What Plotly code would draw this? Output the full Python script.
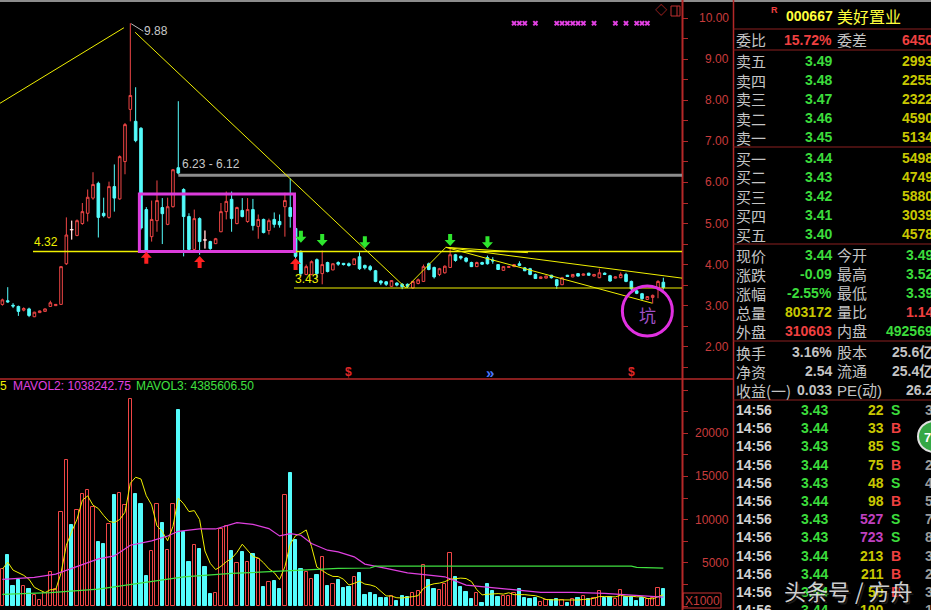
import pandas as pd
import plotly.graph_objects as go

# ------------------------------------------------------------------ bar data
opens = [3.03, 3.12, 3.01, 2.98, 2.89, 2.92, 2.73, 2.83, 2.86, 2.98,
         3.00, 3.03, 4.02, 4.85, 4.71, 5.00, 5.25, 5.62, 5.98, 5.25,
         5.15, 5.90, 5.60, 6.51, 7.78, 7.49, 7.32, 5.34, 4.68, 5.07,
         5.39, 4.98, 5.41, 6.36, 5.83, 5.17, 4.37, 5.12, 4.60, 4.56,
         4.51, 4.80, 5.29, 5.59, 5.00, 5.32, 5.05, 5.34, 4.93, 5.10,
         4.83, 5.10, 5.05, 5.41, 5.39, 4.88, 4.30, 3.76, 3.76, 4.12,
         3.78, 4.05, 3.87, 4.05, 4.03, 4.02, 4.00, 4.19, 3.98, 3.95,
         3.85, 3.60, 3.58, 3.47, 3.55, 3.52, 3.52, 3.43, 3.54, 3.59,
         4.02, 3.93, 3.76, 3.80, 3.93, 4.24, 4.20, 4.16, 4.05, 3.95,
         4.05, 4.17, 4.11, 4.00, 3.86, 3.93, 3.95, 4.02, 3.92, 3.90,
         3.76, 3.66, 3.67, 3.74, 3.63, 3.51, 3.74, 3.70, 3.78, 3.74,
         3.79, 3.72, 3.68, 3.79, 3.73, 3.67, 3.68, 3.76, 3.59, 3.36,
         3.29, 3.15, 3.20, 3.41, 3.57]
highs = [3.17, 3.45, 3.06, 3.00, 2.96, 2.95, 2.85, 2.88, 2.93, 3.12,
         3.04, 3.96, 5.15, 5.07, 5.10, 5.50, 5.83, 6.25, 6.02, 5.63,
         6.02, 6.44, 6.66, 7.45, 9.88, 8.32, 7.35, 5.40, 5.56, 6.05,
         5.62, 5.63, 6.33, 7.98, 5.86, 5.25, 5.34, 5.15, 4.83, 4.58,
         4.65, 5.50, 5.78, 5.78, 5.41, 5.62, 5.62, 5.60, 5.22, 5.12,
         5.12, 5.27, 5.22, 5.75, 6.10, 4.95, 4.35, 4.00, 4.10, 4.15,
         4.34, 4.07, 4.03, 4.08, 4.04, 4.05, 4.15, 4.30, 4.00, 3.99,
         3.87, 3.62, 3.60, 3.62, 3.57, 3.55, 3.54, 3.60, 3.66, 4.00,
         4.05, 3.95, 3.92, 3.98, 4.40, 4.26, 4.22, 4.18, 4.07, 4.07,
         4.07, 4.22, 4.18, 4.01, 3.96, 3.97, 4.01, 4.08, 3.94, 3.92,
         3.78, 3.71, 3.73, 3.75, 3.65, 3.70, 3.75, 3.77, 3.79, 3.78,
         3.80, 3.77, 3.90, 3.81, 3.75, 3.71, 3.81, 3.80, 3.61, 3.38,
         3.31, 3.23, 3.27, 3.62, 3.68]
lows = [3.00, 3.07, 2.94, 2.75, 2.86, 2.72, 2.72, 2.82, 2.85, 2.97,
        2.99, 3.02, 3.99, 4.61, 4.69, 4.97, 5.05, 5.58, 4.66, 5.15,
        5.12, 5.29, 5.58, 6.20, 7.49, 6.98, 4.85, 4.30, 4.56, 4.80,
        4.50, 4.96, 5.39, 6.20, 4.20, 4.35, 4.35, 4.24, 4.39, 4.36,
        4.50, 4.79, 5.10, 4.80, 4.98, 5.15, 5.02, 4.83, 4.63, 4.76,
        4.73, 4.90, 4.90, 4.68, 4.90, 4.15, 3.72, 3.74, 3.74, 3.67,
        3.52, 3.81, 3.86, 3.97, 3.98, 3.95, 3.99, 3.87, 3.88, 3.84,
        3.57, 3.50, 3.48, 3.46, 3.47, 3.40, 3.43, 3.41, 3.52, 3.58,
        3.86, 3.66, 3.72, 3.78, 3.92, 4.07, 4.12, 4.05, 3.94, 3.94,
        3.99, 4.00, 4.02, 3.87, 3.85, 3.92, 3.94, 3.96, 3.84, 3.74,
        3.65, 3.65, 3.66, 3.66, 3.41, 3.50, 3.70, 3.69, 3.71, 3.73,
        3.73, 3.71, 3.67, 3.75, 3.58, 3.66, 3.67, 3.57, 3.38, 3.28,
        3.13, 3.14, 3.05, 3.18, 3.39]
closes = [3.14, 3.09, 2.99, 2.86, 2.93, 2.76, 2.84, 2.87, 2.92, 3.07,
          3.03, 3.95, 4.72, 4.85, 5.07, 5.29, 5.64, 5.95, 5.15, 5.19,
          5.90, 5.62, 6.63, 7.41, 8.12, 7.02, 4.89, 4.32, 5.10, 5.56,
          5.24, 5.41, 6.31, 6.23, 5.17, 4.37, 5.12, 4.56, 4.60, 4.39,
          4.63, 5.29, 5.54, 5.12, 5.39, 5.17, 5.34, 4.95, 5.10, 4.78,
          5.07, 4.98, 4.97, 5.56, 5.17, 4.20, 3.78, 3.95, 4.07, 3.78,
          4.00, 3.83, 4.02, 4.01, 4.00, 3.98, 4.14, 3.90, 3.92, 3.88,
          3.59, 3.55, 3.52, 3.61, 3.50, 3.46, 3.47, 3.59, 3.63, 3.95,
          3.88, 3.70, 3.90, 3.96, 4.24, 4.10, 4.16, 4.08, 3.95, 4.05,
          4.01, 4.02, 4.09, 3.88, 3.95, 3.95, 4.00, 3.98, 3.85, 3.76,
          3.66, 3.70, 3.72, 3.68, 3.49, 3.68, 3.71, 3.76, 3.72, 3.77,
          3.74, 3.76, 3.80, 3.76, 3.60, 3.70, 3.76, 3.59, 3.41, 3.30,
          3.17, 3.22, 3.25, 3.59, 3.44]
# traded volume, in thousands (axis marked X1000)
volume_k = [4270, 5885, 2308, 3000, 2308, 1960, 1270, 690, 1540, 3960,
            2000, 10880, 16850, 9350, 11160, 13000, 13390, 11460, 7420, 7150,
            9540, 12810, 13120, 11650, 23970, 13000, 11770, 3460, 6350, 11850,
            9660, 6460, 11770, 22730, 8580, 5110, 7040, 6580, 4540, 1385,
            1540, 8890, 9270, 6350, 5000, 6270, 5110, 6000, 5390, 2230,
            2800, 2920, 1960, 12810, 15380, 7620, 4270, 3960, 3080, 3580,
            5620, 2310, 2540, 3000, 2040, 2230, 3310, 3840, 1270, 1540,
            1270, 890, 890, 1150, 580, 1150, 1080, 1460, 1730, 4730,
            3000, 1960, 1850, 2540, 6150, 3380, 2230, 1580, 810, 1460,
            380, 2540, 1730, 1080, 1150, 1150, 1460, 1920, 890, 810,
            890, 500, 690, 690, 810, 690, 300, 770, 890, 1150,
            810, 890, 1730, 890, 1000, 770, 1850, 1080, 1000, 620,
            890, 770, 890, 2040, 1960]

# slower volume averages, sampled along the bar index
mavol2_idx = [0, 6, 10, 14, 18, 21, 24, 28, 31, 33, 37, 40, 44, 47, 50, 52, 54, 56,
              58, 61, 63, 66, 68, 72, 76, 80, 83, 87, 92, 96, 101, 107, 113, 118, 124]
mavol2_val = [3080, 3310, 3690, 4620, 5460, 5800, 7040, 7540, 8110, 8650, 8920, 8920,
              9660, 9460, 8960, 8110, 8390, 8190, 7230, 6460, 6270, 5690, 4850, 4350,
              3840, 3580, 3380, 2420, 2150, 1850, 1580, 1580, 1460, 1270, 1038.24275]
mavol3_idx = [0, 9, 18, 28, 34, 43, 53, 59, 63, 69, 70, 118, 119, 124]
mavol3_val = [1350, 1540, 1960, 2800, 3380, 3770, 4080, 4310, 4350, 4400, 4620,
              4620, 4470, 4385.6065]

# drawn levels / studies on the price panel
support_level, support_from = 4.32, 5.74
floor_level, floor_from = 3.43, 54.7
gap_top, gap_bottom, gap_from = 6.23, 6.12, 33
range_box = (25.7, 54.8, 4.32, 5.72)          # idx0, idx1, low, high
trend_lines = [((-0.45, 7.93), (22.8, 9.77)),
               ((24.9, 9.66), (75.7, 3.43)),
               ((75.7, 3.43), (83.2, 4.42)),
               ((83.2, 4.42), (127.5, 3.67)),
               ((83.2, 4.42), (121.9, 3.06)),
               ((83.2, 4.42), (98.6, 4.29))]
buy_idx, buy_tip = [27, 37, 55], [4.31, 4.21, 4.16]
sell_idx, sell_tip = [56, 60, 68, 84, 91], [4.53, 4.45, 4.40, 4.45, 4.40]
flag_idx = [96, 97, 98, 100, 104, 105, 106, 107, 108, 109, 111, 115, 117, 119, 120, 121]
flag_level = 9.88
dollar_idx = [65, 118]
chevron_idx = 91.5
pit_idx, pit_price = 121.0, 2.87
peak_idx, peak_price = 24, 9.88
price_ticks = [2, 3, 4, 5, 6, 7, 8, 9, 10]
vol_ticks = [5000, 10000, 15000, 20000]

# quote panel
stock_code, stock_name = "000667", "美好置业"
ask_names = ["卖五", "卖四", "卖三", "卖二", "卖一"]
ask_prices = ["3.49", "3.48", "3.47", "3.46", "3.45"]
ask_sizes = ["2993", "2255", "2322", "4590", "5134"]
bid_names = ["买一", "买二", "买三", "买四", "买五"]
bid_prices = ["3.44", "3.43", "3.42", "3.41", "3.40"]
bid_sizes = ["5498", "4749", "5880", "3039", "4578"]
quote_l_names = ["现价", "涨跌", "涨幅", "总量", "外盘", "换手", "净资", "收益(一)"]
quote_l_vals = ["3.44", "-0.09", "-2.55%", "803172", "310603", "3.16%", "2.54", "0.033"]
quote_r_names = ["今开", "最高", "最低", "量比", "内盘", "股本", "流通", "PE(动)"]
quote_r_vals = ["3.49", "3.52", "3.39", "1.14", "492569", "25.6亿", "25.4亿", "26.2"]
tick_times = ["14:56"] * 12
tick_prices = ["3.43", "3.44", "3.43", "3.44", "3.43", "3.44", "3.43", "3.43",
               "3.44", "3.44", "3.44", "3.44"]
tick_sizes = [22, 33, 85, 75, 48, 98, 527, 723, 213, 211, 50, 100]
tick_sides = ["S", "B", "S", "B", "S", "B", "S", "S", "B", "B", "B", ""]
tick_tail = ["3", "", "", "2", "4", "5", "7", "8", "3", "2", "3", "1"]

# ------------------------------------------------------------------ geometry
W, H = 931, 610
CHART_R, PANEL_L = 682, 733
P_TOP, P_BOT, V_TOP, V_BOT = 2, 378, 380, 606
X_RANGE = [-0.45, 127.5]
P_RANGE = [1.237, 10.397]
V_RANGE = [0, 26170]
IDX_PX = CHART_R / (X_RANGE[1] - X_RANGE[0])
PRICE_PX = (P_BOT - P_TOP) / (P_RANGE[1] - P_RANGE[0])


def fx(px):
    return px / W


def fy(py):
    return 1 - py / H


UP, DN = "#f04646", "#54fcfc"
AXIS_RED = "#b42828"
YEL = "#f0f000"
MAG = "#dc3cdc"
LABEL = "#c4c4c4"
GREEN = "#3cdc3c"
RED = "#f04040"
OLIVE = "#c8c800"
NUM = "Liberation Sans, Noto Sans CJK SC"
CJK = "Noto Sans CJK SC"

idx = list(range(len(closes)))
fig = go.Figure()

# ------------------------------------------------------------------ price panel
fig.add_trace(go.Candlestick(
    x=idx, open=opens, high=highs, low=lows, close=closes,
    increasing=dict(line=dict(color=UP, width=1), fillcolor="black"),
    decreasing=dict(line=dict(color=DN, width=1), fillcolor=DN),
    whiskerwidth=0, xaxis="x", yaxis="y", hoverinfo="skip"))

# unchanged bars (open == close) are drawn as white crosses
fx_, fy_ = [], []
for i in idx:
    if opens[i] == closes[i]:
        fx_ += [i, i, None, i - 0.35, i + 0.35, None]
        fy_ += [lows[i], highs[i], None, opens[i], opens[i], None]
fig.add_trace(go.Scatter(x=fx_, y=fy_, mode="lines", line=dict(color="white", width=1),
                         xaxis="x", yaxis="y", hoverinfo="skip"))

fig.add_trace(go.Scatter(x=flag_idx, y=[flag_level] * len(flag_idx), mode="markers",
                         marker=dict(symbol="x", size=5, color="#e040e0"),
                         xaxis="x", yaxis="y", hoverinfo="skip"))

# ------------------------------------------------------------------ volume panel
up = [c > o for o, c in zip(opens, closes)]
fig.add_trace(go.Bar(
    x=idx, y=volume_k, width=0.62,
    marker=dict(color=["black" if u else DN for u in up],
                line=dict(color=[UP if u else DN for u in up], width=1)),
    xaxis="x2", yaxis="y2", hoverinfo="skip"))
mavol1 = pd.Series(volume_k, dtype=float).rolling(5, min_periods=1).mean()
fig.add_trace(go.Scatter(x=idx, y=mavol1, mode="lines", line=dict(color=YEL, width=1),
                         xaxis="x2", yaxis="y2", hoverinfo="skip"))
fig.add_trace(go.Scatter(x=mavol2_idx, y=mavol2_val, mode="lines",
                         line=dict(color="#e040e0", width=1.2),
                         xaxis="x2", yaxis="y2", hoverinfo="skip"))
fig.add_trace(go.Scatter(x=mavol3_idx, y=mavol3_val, mode="lines",
                         line=dict(color="#40e040", width=1.2),
                         xaxis="x2", yaxis="y2", hoverinfo="skip"))

# ------------------------------------------------------------------ shapes
shapes = []


def pline(x0, y0, x1, y1, color, width=1, ref="paper"):
    shapes.append(dict(type="line", xref=ref, yref=ref, x0=x0, y0=y0, x1=x1, y1=y1,
                       line=dict(color=color, width=width)))


# window frame and panel separators
pline(0, fy(1), 1, fy(1), "#8c8c8c", 2)
pline(fx(CHART_R + 0.5), 0, fx(CHART_R + 0.5), 1, AXIS_RED, 2)
pline(fx(PANEL_L + 0.5), 0, fx(PANEL_L + 0.5), 1, AXIS_RED, 1.5)
pline(0, fy(379), fx(PANEL_L), fy(379), AXIS_RED, 1.5)


def dline(x0, y0, x1, y1, color, width=1):
    shapes.append(dict(type="line", xref="x", yref="y", x0=x0, y0=y0, x1=x1, y1=y1,
                       line=dict(color=color, width=width)))


dline(support_from, support_level, X_RANGE[1], support_level, YEL, 1.5)
dline(floor_from, floor_level, X_RANGE[1], floor_level, YEL, 1.2)
gap_mid = (gap_top + gap_bottom) / 2
dline(gap_from, gap_mid, X_RANGE[1], gap_mid, "#8c8c8c", 3)
for (a, b) in trend_lines:
    dline(a[0], a[1], b[0], b[1], YEL, 1)

bx0, bx1, by0, by1 = range_box
shapes.append(dict(type="rect", xref="x", yref="y", x0=bx0, x1=bx1, y0=by0, y1=by1,
                   line=dict(color=MAG, width=3)))

r_px = 25
shapes.append(dict(type="circle", xref="x", yref="y",
                   x0=pit_idx - r_px / IDX_PX, x1=pit_idx + r_px / IDX_PX,
                   y0=pit_price - r_px / PRICE_PX, y1=pit_price + r_px / PRICE_PX,
                   line=dict(color="#e030e0", width=3)))


def arrow(i, tip, down, color):
    s = 1 if down else -1
    outline = [(0, 0), (5.5, 6), (2, 6), (2, 12), (-2, 12), (-2, 6), (-5.5, 6)]
    pts = [(i + dx / IDX_PX, tip + s * dy / PRICE_PX) for dx, dy in outline]
    path = "M " + " L ".join(f"{x:.4f},{y:.4f}" for x, y in pts) + " Z"
    shapes.append(dict(type="path", xref="x", yref="y", path=path,
                       fillcolor=color, line=dict(width=0)))


for i, t in zip(buy_idx, buy_tip):
    arrow(i, t, False, "#ff2020")
for i, t in zip(sell_idx, sell_tip):
    arrow(i, t, True, "#2ee62e")

# small icons in the price panel corner, X1000 box, floating button
shapes.append(dict(type="rect", xref="paper", yref="paper", x0=fx(671), x1=fx(680),
                   y0=fy(16), y1=fy(6), line=dict(color="#c03030", width=1)))
pline(fx(677), fy(6), fx(677), fy(16), "#c03030", 1)
shapes.append(dict(type="rect", xref="paper", yref="paper", x0=fx(683), x1=fx(721),
                   y0=fy(608), y1=fy(593), line=dict(color="#c83232", width=1)))

# quote panel separators
for yy in [29, 50, 147, 244, 341, 400]:
    pline(fx(PANEL_L), fy(yy), 1, fy(yy), "#8c2020", 1)
shapes.append(dict(type="circle", xref="paper", yref="paper", x0=fx(918), x1=fx(950),
                   y0=fy(452), y1=fy(421), fillcolor="#35a845",
                   line=dict(color="#e0e0e0", width=2)))

# ------------------------------------------------------------------ annotations
ann = []


def text(x, y, s, color, size=14, anchor="left", font=NUM, bold=False):
    ann.append(dict(x=fx(x), y=fy(y), xref="paper", yref="paper",
                    text=f"<b>{s}</b>" if bold else s, showarrow=False,
                    xanchor=anchor, yanchor="middle", borderpad=0, borderwidth=0,
                    font=dict(family=font, size=size, color=color)))


def dtext(x, y, s, color, size=12, anchor="left", xshift=0, yshift=0, bold=False):
    ann.append(dict(x=x, y=y, xref="x", yref="y", text=f"<b>{s}</b>" if bold else s,
                    showarrow=False, xanchor=anchor, yanchor="middle", borderpad=0,
                    xshift=xshift, yshift=yshift,
                    font=dict(family=NUM, size=size, color=color)))


for v in price_ticks:
    ann.append(dict(x=fx(730), y=v, xref="paper", yref="y", text=f"{v:.2f}",
                    showarrow=False, xanchor="right", yanchor="middle", borderpad=0,
                    font=dict(family=NUM, size=12, color="#c83c3c")))
for v in vol_ticks:
    ann.append(dict(x=fx(730), y=v, xref="paper", yref="y2", text=f"{v}",
                    showarrow=False, xanchor="right", yanchor="middle", borderpad=0,
                    font=dict(family=NUM, size=12, color="#c83c3c")))
text(702, 600.5, "X1000", "#c83c3c", 12, "center")

# price-panel labels
ann.append(dict(x=peak_idx, y=peak_price, xref="x", yref="y", text=f"{peak_price:.2f}",
                showarrow=True, arrowhead=0, arrowwidth=1, arrowcolor="#bdbdbd",
                ax=13, ay=8, xanchor="left", yanchor="middle", standoff=1, borderpad=0,
                font=dict(family=NUM, size=12, color="#c8c8c8")))
dtext(gap_from, gap_mid, f"{gap_top:.2f} - {gap_bottom:.2f}", "#c8c8c8", 12,
      xshift=3, yshift=11)
dtext(support_from, support_level, f"{support_level:.2f}", YEL, 12, yshift=9)
dtext(floor_from, floor_level, f"{floor_level:.2f}", YEL, 12, yshift=9)
dtext(pit_idx, pit_price - 6 / PRICE_PX, "坑", "#a050c8", 17, "center")
for i in dollar_idx:
    dtext(i, 1.38, "$", "#e02828", 12, "center", bold=True)
dtext(chevron_idx, 1.38, "»", "#4a78ff", 15, "center", bold=True)
text(661, 11.5, "◇", "#c03030", 12, "center")

# volume panel header
text(0, 386, "5", YEL, 12)
text(13, 386, f"MAVOL2: {mavol2_val[-1] * 1000:.2f}", "#e040e0", 12)
text(136, 386, f"MAVOL3: {mavol3_val[-1] * 1000:.2f}", "#40e040", 12)

# quote panel
text(771, 10, "R", RED, 9, bold=True)
text(786, 16, stock_code, "#ffff3c", 14, bold=True)
text(837, 16, stock_name, "#ffff3c", 16, font=CJK)
text(736, 40, "委比", LABEL, 15, font=CJK)
text(832, 40, "15.72%", RED, 14, "right", bold=True)
text(837, 40, "委差", LABEL, 15, font=CJK)
text(933, 40, "6450", RED, 14, "right", bold=True)
for k in range(5):
    y = 61 + 19 * k
    text(736, y, ask_names[k], LABEL, 15, font=CJK)
    text(832, y, ask_prices[k], GREEN, 14, "right", bold=True)
    text(933, y, ask_sizes[k], OLIVE, 14, "right", bold=True)
    y = 158 + 19 * k
    text(736, y, bid_names[k], LABEL, 15, font=CJK)
    text(832, y, bid_prices[k], GREEN, 14, "right", bold=True)
    text(933, y, bid_sizes[k], OLIVE, 14, "right", bold=True)

l_colors = [GREEN, GREEN, GREEN, OLIVE, RED, LABEL, LABEL, LABEL]
r_colors = [GREEN, GREEN, GREEN, RED, GREEN, LABEL, LABEL, LABEL]
quote_y = [255, 274, 293, 312, 331, 352, 371, 390]
for k, y in enumerate(quote_y):
    text(736, y, quote_l_names[k], LABEL, 15, font=CJK)
    text(832, y, quote_l_vals[k], l_colors[k], 14, "right", bold=True)
    text(837, y, quote_r_names[k], LABEL, 15, font=NUM)
    text(933, y, quote_r_vals[k], r_colors[k], 14, "right", bold=True)

for k in range(len(tick_times)):
    y = 410 + 18.2 * k
    text(736, y, tick_times[k], "#d2d2d2", 14, bold=True)
    text(828, y, tick_prices[k], GREEN, 14, "right", bold=True)
    text(884, y, str(tick_sizes[k]), "#c040c0" if tick_sizes[k] >= 500 else OLIVE,
         14, "right", bold=True)
    if tick_sides[k]:
        text(891, y, tick_sides[k], GREEN if tick_sides[k] == "S" else RED, 14, bold=True)
    if tick_tail[k]:
        text(925, y, tick_tail[k], "#9a9a9a", 14, bold=True)
text(927, 437, "7", "white", 13, "center", bold=True)

# watermark
text(849.5, 591.5, "头条号 / 方舟", "rgba(30,30,30,0.9)", 22, "center", font=CJK)
text(848, 590, "头条号 / 方舟", "rgba(228,228,228,0.92)", 22, "center", font=CJK)

# ------------------------------------------------------------------ layout
axis_common = dict(showgrid=False, zeroline=False, showline=False)
fig.update_layout(
    width=W, height=H, margin=dict(l=0, r=0, t=0, b=0),
    paper_bgcolor="black", plot_bgcolor="black", showlegend=False,
    hovermode=False, bargap=0,
    xaxis=dict(domain=[0, fx(CHART_R)], range=X_RANGE, visible=False, anchor="y",
               rangeslider=dict(visible=False), **axis_common),
    xaxis2=dict(domain=[0, fx(CHART_R)], range=X_RANGE, visible=False, anchor="y2",
                matches="x", **axis_common),
    yaxis=dict(domain=[fy(P_BOT), fy(P_TOP)], range=P_RANGE, side="right", anchor="x",
               ticks="outside", ticklen=5, tickwidth=1, tickcolor=AXIS_RED,
               tick0=0, dtick=0.5, showticklabels=False, **axis_common),
    yaxis2=dict(domain=[fy(V_BOT), fy(V_TOP)], range=V_RANGE, side="right", anchor="x2",
                ticks="outside", ticklen=5, tickwidth=1, tickcolor=AXIS_RED,
                tick0=0, dtick=2500, showticklabels=False, **axis_common),
    shapes=shapes, annotations=ann,
)

fig.write_html("out.html")
